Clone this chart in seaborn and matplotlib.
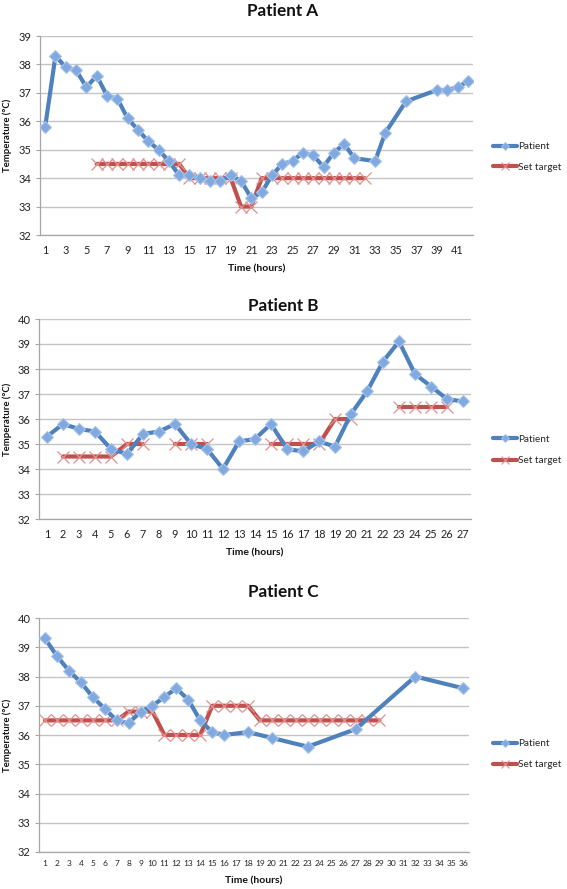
import numpy as np
import pandas as pd
import matplotlib
matplotlib.use("Agg")
import matplotlib.pyplot as plt
from matplotlib.lines import Line2D
from matplotlib.ticker import FixedLocator
import seaborn as sns

nan = np.nan

# ---------------- data ----------------
hours_a = list(range(1, 43))
patient_a = [35.8, 38.3, 37.9, 37.8, 37.2, 37.6, 36.9, 36.8, 36.1, 35.7,
             35.3, 35.0, 34.6, 34.1, 34.1, 34.0, 33.9, 33.9, 34.1, 33.9,
             33.3, 33.5, 34.1, 34.5, 34.6, 34.9, 34.8, 34.4, 34.9, 35.2,
             34.7, nan, 34.6, 35.6, nan, 36.7, nan, nan, 37.1, 37.1,
             37.2, 37.4]
target_a = [nan, nan, nan, nan, nan, 34.5, 34.5, 34.5, 34.5, 34.5,
            34.5, 34.5, 34.5, 34.5, 34.0, 34.0, 34.0, 34.0, 34.0, 33.0,
            33.0, 34.0, 34.0, 34.0, 34.0, 34.0, 34.0, 34.0, 34.0, 34.0,
            34.0, 34.0, nan, nan, nan, nan, nan, nan, nan, nan,
            nan, nan]
xticks_a = list(range(1, 42, 2))

hours_b = list(range(1, 28))
patient_b = [35.3, 35.8, 35.6, 35.5, 34.8, 34.6, 35.4, 35.5, 35.8, 35.0,
             34.8, 34.0, 35.1, 35.2, 35.8, 34.8, 34.7, 35.1, 34.9, 36.2,
             37.1, 38.3, 39.1, 37.8, 37.3, 36.8, 36.7]
target_b = [nan, 34.5, 34.5, 34.5, 34.5, 35.0, 35.0, nan, 35.0, 35.0,
            35.0, nan, nan, nan, 35.0, 35.0, 35.0, 35.0, 36.0, 36.0,
            nan, nan, 36.5, 36.5, 36.5, 36.5, nan]
xticks_b = list(range(1, 28))

hours_c = list(range(1, 37))
patient_c = [39.3, 38.7, 38.2, 37.8, 37.3, 36.9, 36.5, 36.4, 36.8, 37.0,
             37.3, 37.6, 37.2, 36.5, 36.1, 36.0, nan, 36.1, nan, 35.9,
             nan, nan, 35.6, nan, nan, nan, 36.2, nan, nan, nan,
             nan, 38.0, nan, nan, nan, 37.6]
target_c = [36.5, 36.5, 36.5, 36.5, 36.5, 36.5, 36.5, 36.8, 36.8, 36.8,
            36.0, 36.0, 36.0, 36.0, 37.0, 37.0, 37.0, 37.0, 36.5, 36.5,
            36.5, 36.5, 36.5, 36.5, 36.5, 36.5, 36.5, 36.5, 36.5, nan,
            nan, nan, nan, nan, nan, nan]
xticks_c = list(range(1, 37))

titles = ["Patient A", "Patient B", "Patient C"]
series_names = ["Patient", "Set target"]
y_label = "Temperature (°C)"
x_label = "Time (hours)"

# ---------------- style ----------------
sns.set_style("white")
plt.rcParams["font.family"] = ["Lato", "DejaVu Sans"]

BLUE = "#4F81BD"
BLUE_M = "#80A9DF"
BLUE_ME = "#A9C4EA"
RED = "#C0504D"
RED_M = "#E0908E"
GRID = "#C4C4C4"
AX = "#A6A6A6"

W, H = 567, 889
fig = plt.figure(figsize=(W / 100, H / 100), dpi=100)


def rect(l, t, r, b):
    return [l / W, 1 - b / H, (r - l) / W, (b - t) / H]


panels = [
    dict(hours=hours_a, pat=patient_a, tgt=target_a, ticks=xticks_a,
         box=(40, 36, 473, 235), ymax=39, title_y=16, xl_y=269,
         tick_fs=7.8, tick_pad=7.5, leg_y=157, leg_sp=1.15),
    dict(hours=hours_b, pat=patient_b, tgt=target_b, ticks=xticks_b,
         box=(39, 319, 471, 519), ymax=40, title_y=311, xl_y=553,
         tick_fs=7.8, tick_pad=7.0, leg_y=450, leg_sp=1.25),
    dict(hours=hours_c, pat=patient_c, tgt=target_c, ticks=xticks_c,
         box=(39, 618, 469, 852), ymax=40, title_y=597, xl_y=881,
         tick_fs=6.0, tick_pad=6.0, leg_y=754, leg_sp=1.2),
]

for p, title in zip(panels, titles):
    ax = fig.add_axes(rect(*p["box"]))
    hrs = np.array(p["hours"])
    pat = np.array(p["pat"], dtype=float)
    tgt = np.array(p["tgt"], dtype=float)

    dfp = pd.DataFrame({"hour": hrs, "temp": pat}).dropna()
    seg = np.cumsum(np.isnan(tgt))
    dft = pd.DataFrame({"hour": hrs, "temp": tgt, "seg": seg}).dropna()

    sns.lineplot(data=dft, x="hour", y="temp", units="seg", estimator=None,
                 ax=ax, color=RED, lw=3.0, marker="x", ms=8.5, mew=0.9,
                 mec=RED_M, legend=False, zorder=3)
    sns.lineplot(data=dfp, x="hour", y="temp", estimator=None, ax=ax,
                 color=BLUE, lw=3.0, marker="D", ms=6.0, mfc=BLUE_M,
                 mec=BLUE_ME, mew=0.8, legend=False, zorder=4)

    n = len(hrs)
    ax.set_xlim(0.5, n + 0.5)
    ax.set_ylim(32, p["ymax"])
    ax.set_yticks(range(32, p["ymax"] + 1))
    ax.set_xticks(p["ticks"])
    ax.set_xticklabels([str(t) for t in p["ticks"]])
    ax.xaxis.set_minor_locator(FixedLocator(np.arange(0.5, n + 1, 1.0)))
    ax.tick_params(axis="x", which="major", length=0, pad=p["tick_pad"],
                   labelsize=p["tick_fs"], colors="#222222")
    ax.tick_params(axis="x", which="minor", length=3.5, width=0.8,
                   color=AX, direction="out")
    ax.tick_params(axis="y", which="major", length=3, width=0.8,
                   color=AX, pad=3, labelsize=8, labelcolor="#222222",
                   direction="out", left=True)
    ax.grid(axis="y", color=GRID, lw=1.0)
    ax.grid(axis="x", visible=False)
    ax.set_axisbelow(True)
    for s in ["top", "right"]:
        ax.spines[s].set_visible(False)
    for s in ["left", "bottom"]:
        ax.spines[s].set_color(AX)
        ax.spines[s].set_linewidth(0.9)
    ax.set_xlabel("")
    ax.set_ylabel("")

    l, t, r, b = p["box"]
    fig.text(283 / W, 1 - p["title_y"] / H, title, ha="center",
             va="baseline", fontsize=12.3, fontweight="bold", color="#111111")
    fig.text(7 / W, 1 - ((t + b) / 2) / H, y_label, rotation=90,
             ha="center", va="center", fontsize=6.8, fontweight="bold",
             color="#111111")
    fig.text(((l + r) / 2) / W, 1 - p["xl_y"] / H, x_label, ha="center",
             va="center", fontsize=7.5, fontweight="bold", color="#111111")

    handles = [
        Line2D([], [], color=BLUE, lw=3.0, marker="D", ms=4.5,
               mfc=BLUE_M, mec=BLUE_ME, mew=0.6),
        Line2D([], [], color=RED, lw=3.0, marker="x", ms=6,
               mec=RED_M, mew=0.8),
    ]
    fig.legend(handles, series_names, loc="center left",
               bbox_to_anchor=(493 / W, 1 - p["leg_y"] / H),
               frameon=False, fontsize=7.2, handlelength=2.4,
               handletextpad=0.1, borderpad=0, borderaxespad=0,
               labelspacing=p["leg_sp"], markerscale=1.0)

fig.savefig("out.png", dpi=100)
